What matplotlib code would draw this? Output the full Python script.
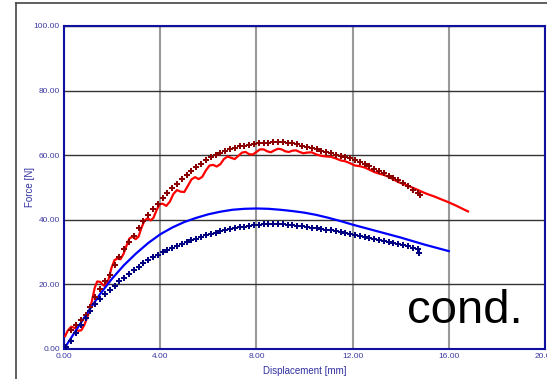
import matplotlib
matplotlib.use("Agg")
import matplotlib.pyplot as plt
from matplotlib.lines import Line2D

plt.rcParams['font.family'] = ['Liberation Sans', 'DejaVu Sans']

# dark red crosses (test 1, measured)
red_pts_x = [0.3, 0.5, 0.7, 0.9, 1.1, 1.3, 1.5, 1.7, 1.9, 2.1, 2.3, 2.5, 2.7, 2.9,
             3.1, 3.3, 3.5, 3.7, 3.9, 4.1, 4.3, 4.5, 4.7, 4.9, 5.1, 5.3, 5.5, 5.7,
             5.9, 6.1, 6.3, 6.5, 6.7, 6.9, 7.1, 7.3, 7.5, 7.7, 7.9, 8.1, 8.3, 8.5,
             8.7, 8.9, 9.1, 9.3, 9.5, 9.7, 9.9, 10.1, 10.3, 10.5, 10.7, 10.9, 11.1,
             11.3, 11.5, 11.7, 11.9, 12.1, 12.3, 12.5, 12.7, 12.9, 13.1, 13.3, 13.5,
             13.7, 13.9, 14.1, 14.3, 14.5, 14.7, 14.8]
red_pts_y = [6.0, 7.5, 9.0, 10.5, 13.0, 16.0, 18.5, 21.0, 23.0, 26.0, 28.5, 31.0, 33.0, 35.0,
             37.5, 39.5, 41.5, 43.3, 45.0, 46.8, 48.3, 49.8, 51.2, 52.5, 53.8, 55.0, 56.2, 57.3,
             58.4, 59.3, 60.0, 60.7, 61.3, 61.8, 62.3, 62.7, 63.0, 63.3, 63.5, 63.7, 63.8, 63.9,
             64.0, 64.0, 64.0, 63.9, 63.7, 63.4, 63.0, 62.6, 62.2, 61.8, 61.4, 61.0, 60.6,
             60.2, 59.8, 59.4, 59.0, 58.5, 57.9, 57.2, 56.5, 55.8, 55.1, 54.4, 53.7,
             53.0, 52.2, 51.4, 50.4, 49.3, 48.3, 47.8]

# red line (test 1, simulated)
red_line_x = [0.05, 0.15, 0.3, 0.45, 0.6, 0.72, 0.85, 1.0, 1.15, 1.28, 1.38, 1.5, 1.62, 1.72,
              1.85, 1.97, 2.1, 2.22, 2.35, 2.48, 2.6, 2.72, 2.85, 2.98, 3.1, 3.22, 3.35, 3.48,
              3.6, 3.72, 3.85, 3.98, 4.1, 4.25, 4.4, 4.55, 4.7, 4.85, 5.0, 5.15, 5.3, 5.45,
              5.6, 5.75, 5.9, 6.05, 6.2, 6.35, 6.5, 6.65, 6.8, 6.95, 7.1, 7.25, 7.4, 7.55,
              7.7, 7.85, 8.0, 8.15, 8.3, 8.45, 8.6, 8.75, 8.9, 9.05, 9.2, 9.35, 9.5, 9.65,
              9.8, 9.95, 10.1, 10.3, 10.5, 10.7, 10.9, 11.1, 11.3, 11.5, 11.7, 11.9, 12.1,
              12.3, 12.5, 12.7, 12.9, 13.1, 13.3, 13.5, 13.7, 13.9, 14.1, 14.3, 14.5, 14.7,
              14.9, 15.1, 15.4, 15.7, 16.0, 16.3, 16.6, 16.8]
red_line_y = [4.0, 5.6, 6.9, 6.5, 5.6, 5.8, 7.5, 10.5, 14.5, 19.0, 20.9, 20.8, 19.8, 19.4,
              21.5, 25.0, 27.5, 28.0, 27.8, 29.5, 32.0, 34.2, 34.8, 34.0, 34.8, 37.5, 39.8, 40.5,
              39.8, 40.6, 43.0, 44.8, 45.0, 44.3, 45.6, 48.0, 49.2, 48.7, 48.6, 50.5, 52.5, 53.2,
              52.6, 53.3, 55.3, 56.8, 57.0, 56.5, 57.2, 58.8, 59.6, 59.2, 58.8, 59.8, 60.8, 61.0,
              60.3, 60.2, 61.0, 61.8, 61.8, 61.2, 60.9, 61.5, 62.0, 61.8, 61.2, 61.0, 61.4, 61.5,
              61.0, 60.6, 60.8, 60.9, 60.2, 59.8, 59.6, 59.5, 59.0, 58.4, 58.1, 57.5, 56.8,
              56.6, 56.2, 55.5, 54.8, 54.3, 53.9, 53.3, 52.5, 51.7, 51.1, 50.6, 49.9, 49.3,
              48.6, 48.0, 47.2, 46.3, 45.4, 44.4, 43.3, 42.6]

# navy crosses (test 2, measured)
blue_pts_x = [0.1, 0.3, 0.5, 0.7, 0.9, 1.1, 1.3, 1.5, 1.7, 1.9, 2.1, 2.3, 2.5, 2.7, 2.9,
              3.1, 3.3, 3.5, 3.7, 3.9, 4.1, 4.3, 4.5, 4.7, 4.9, 5.1, 5.3, 5.5, 5.7, 5.9,
              6.1, 6.3, 6.5, 6.7, 6.9, 7.1, 7.3, 7.5, 7.7, 7.9, 8.1, 8.3, 8.5, 8.7, 8.9,
              9.1, 9.3, 9.5, 9.7, 9.9, 10.1, 10.3, 10.5, 10.7, 10.9, 11.1, 11.3, 11.5, 11.7,
              11.9, 12.1, 12.3, 12.5, 12.7, 12.9, 13.1, 13.3, 13.5, 13.7, 13.9, 14.1, 14.3,
              14.5, 14.7, 14.75]
blue_pts_y = [0.5, 2.5, 5.0, 7.5, 9.7, 11.9, 13.8, 15.5, 17.0, 18.3, 19.6, 20.9, 22.1, 23.3, 24.4,
              25.5, 26.5, 27.5, 28.4, 29.2, 30.0, 30.7, 31.4, 32.0, 32.6, 33.2, 33.7, 34.2, 34.7, 35.2,
              35.6, 36.0, 36.4, 36.8, 37.1, 37.4, 37.7, 37.9, 38.1, 38.3, 38.5, 38.6, 38.7, 38.7, 38.7,
              38.6, 38.5, 38.4, 38.2, 38.0, 37.8, 37.6, 37.4, 37.2, 36.9, 36.7, 36.4, 36.2, 35.9,
              35.6, 35.3, 35.0, 34.7, 34.4, 34.1, 33.8, 33.5, 33.2, 32.9, 32.6, 32.2, 31.8,
              31.4, 31.0, 29.6]

# blue line (test 2, simulated)
blue_line_x = [0, 0.5, 1, 1.5, 2, 2.5, 3, 3.5, 4, 4.5, 5, 5.5, 6, 6.5, 7, 7.5, 8, 8.5,
               9, 9.5, 10, 10.5, 11, 11.5, 12, 12.5, 13, 13.5, 14, 14.5, 15, 15.5, 16]
blue_line_y = [0, 5.8, 11.5, 17.0, 21.8, 26.0, 29.6, 32.8, 35.5, 37.6, 39.3, 40.6, 41.7, 42.5,
               43.1, 43.4, 43.5, 43.4, 43.1, 42.7, 42.2, 41.5, 40.6, 39.6, 38.5, 37.5, 36.5,
               35.5, 34.5, 33.4, 32.3, 31.3, 30.3]

xticks = [0, 4, 8, 12, 16, 20]
yticks = [0, 20, 40, 60, 80, 100]

fig = plt.figure(figsize=(5.47, 3.79), dpi=100)
ax = fig.add_axes([0.117, 0.0792, 0.8793, 0.8522])

# outer frame (only left and top visible)
fig.add_artist(Line2D([0.029, 0.029], [0, 0.992], color='#444444', lw=1.2))
fig.add_artist(Line2D([0.029, 1.0], [0.992, 0.992], color='#444444', lw=1.2))

for xv in xticks:
    ax.axvline(xv, color='#999999', lw=1.5, zorder=1)
for yv in yticks:
    ax.axhline(yv, color='#333333', lw=1.0, zorder=1)

ax.plot(red_line_x, red_line_y, color='#ff0000', lw=1.6, zorder=3)
ax.plot(red_pts_x, red_pts_y, ls='none', marker='P', ms=4.5, color='#8b0000', mew=0, zorder=4)
ax.plot(blue_line_x, blue_line_y, color='#0000ff', lw=1.6, zorder=3)
ax.plot(blue_pts_x, blue_pts_y, ls='none', marker='P', ms=4.5, color='#000080', mew=0, zorder=4)

ax.set_xlim(0, 20)
ax.set_ylim(0, 100)
ax.set_xticks(xticks)
ax.set_yticks(yticks)
ax.set_xticklabels(['%.2f' % v for v in xticks])
ax.set_yticklabels(['%.2f' % v for v in yticks])
ax.tick_params(length=0, labelsize=6, labelcolor='#3a3aa0', pad=3)
for s in ax.spines.values():
    s.set_color('#1010a0')
    s.set_linewidth(1.5)

ax.set_xlabel('Displacement [mm]', fontsize=7, color='#3030a0', labelpad=4)
ax.set_ylabel('Force [N]', fontsize=7, color='#3030a0', labelpad=-1)

ax.text(14.25, 8.0, 'cond.', fontsize=34, color='black', zorder=5)

fig.savefig('out.png', dpi=100)
